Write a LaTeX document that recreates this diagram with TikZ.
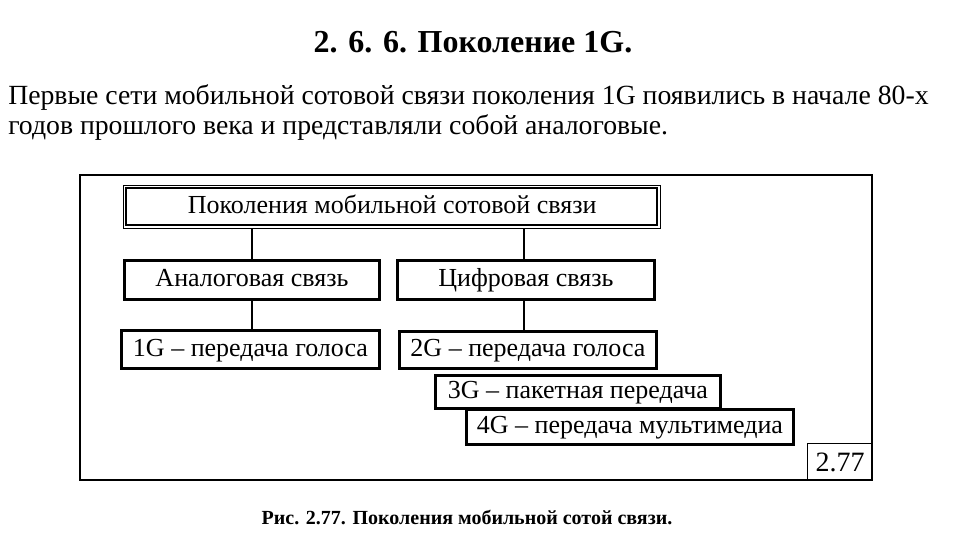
\documentclass[tikz,border=0pt]{standalone}
\usepackage{fontspec}
\setmainfont{Liberation Serif}
\begin{document}
\begin{tikzpicture}[x=0.75pt,y=-0.75pt,
  box/.style={draw,line width=2.2pt,inner sep=0pt,anchor=north west,font=\fontsize{19.5}{22}\selectfont,text height=13pt,text depth=3pt},
  link/.style={line width=0.8pt}]
\useasboundingbox (0,0) rectangle (960,540);
\node[font=\bfseries\fontsize{24}{26}\selectfont] (title) at (473,42) {2. 6. 6. Поколение 1G.};
\node[anchor=west,font=\fontsize{20.8}{24}\selectfont,inner sep=0pt] (p1) at (8,98) {Первые сети мобильной сотовой связи поколения 1G появились в начале 80-х};
\node[anchor=west,font=\fontsize{20.8}{24}\selectfont,inner sep=0pt] (p2) at (8,128) {годов прошлого века и представляли собой аналоговые.};
\draw[line width=1pt] (80,175) rectangle (872,480);
\node[draw,line width=1pt,anchor=north west,minimum width=537*0.75pt,minimum height=43*0.75pt] (top) at (123,185) {};
\draw[line width=1pt] (126,188) rectangle (657,225);
\node[font=\fontsize{19.5}{22}\selectfont,text height=13pt,text depth=3pt] at (top.center) {Поколения мобильной сотовой связи};
\node[box,minimum width=255*0.75pt,minimum height=39*0.75pt] (an) at (123,259) {Аналоговая связь};
\node[box,minimum width=257*0.75pt,minimum height=39*0.75pt] (dg) at (396,259) {Цифровая связь};
\node[box,minimum width=258*0.75pt,minimum height=38*0.75pt] (g1) at (120,329) {1G – передача голоса};
\node[box,minimum width=257*0.75pt,minimum height=37*0.75pt] (g2) at (398,330) {2G – передача голоса};
\node[box,minimum width=285*0.75pt,minimum height=33*0.75pt] (g3) at (434,374) {3G – пакетная передача};
\node[box,minimum width=327*0.75pt,minimum height=35*0.75pt] (g4) at (465,408) {4G – передача мультимедиа};
\node[draw,line width=1pt,anchor=north west,minimum width=65*0.75pt,minimum height=37*0.75pt,inner sep=0pt,font=\fontsize{21}{23}\selectfont] (num) at (807,443) {2.77};
\draw[link] (252,228) -- (an.north -| 252,0);
\draw[link] (an.south -| 252,0) -- (g1.north -| 252,0);
\draw[link] (524,228) -- (dg.north -| 524,0);
\draw[link] (dg.south -| 524,0) -- (g2.north -| 524,0);
\node[font=\bfseries\fontsize{15}{17}\selectfont] (cap) at (467,517) {Рис. 2.77. Поколения мобильной сотой связи.};
\end{tikzpicture}
\end{document}
